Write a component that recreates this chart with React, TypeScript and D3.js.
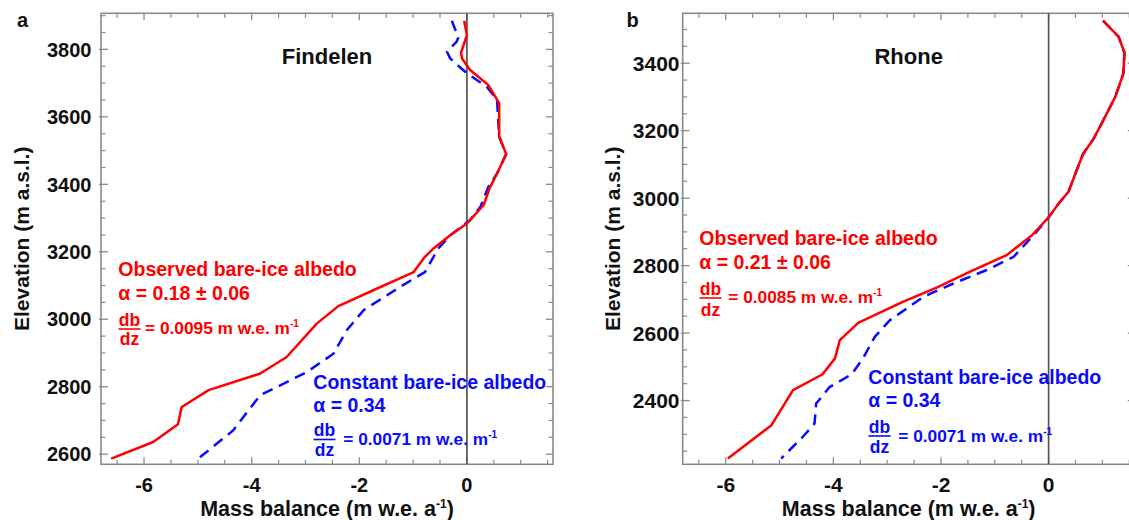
import React from "react";
import * as d3 from "d3";

// ---------- data ----------
// Findelen, observed bare-ice albedo (red, solid)
const findelenObsZ = [3885, 3842, 3790, 3773, 3739, 3694, 3640, 3541, 3490, 3432, 3388, 3338, 3284, 3249, 3210, 3185, 3140, 3086, 3039, 2987, 2888, 2839, 2790, 2740, 2689, 2636, 2587];
const findelenObsMB = [-0.05, 0.0, -0.11, -0.09, 0.06, 0.40, 0.60, 0.60, 0.73, 0.56, 0.42, 0.31, 0.0, -0.31, -0.62, -0.78, -0.99, -1.74, -2.39, -2.79, -3.35, -3.84, -4.80, -5.30, -5.37, -5.83, -6.61];
// Findelen, constant bare-ice albedo (blue, dashed)
const findelenConZ = [3885, 3835, 3823, 3793, 3773, 3729, 3689, 3650, 3541, 3490, 3432, 3393, 3333, 3294, 3249, 3210, 3140, 3096, 3027, 2968, 2898, 2844, 2804, 2775, 2730, 2671, 2587];
const findelenConMB = [-0.28, -0.16, -0.19, -0.37, -0.31, 0.0, 0.37, 0.56, 0.60, 0.73, 0.56, 0.40, 0.25, 0.06, -0.31, -0.53, -0.78, -1.24, -1.92, -2.23, -2.48, -2.97, -3.47, -3.84, -4.06, -4.34, -4.99];
// Rhone, observed bare-ice albedo
const rhoneObsZ = [3526, 3479, 3431, 3370, 3301, 3232, 3177, 3131, 3074, 3019, 2985, 2943, 2890, 2831, 2782, 2735, 2693, 2630, 2579, 2525, 2478, 2431, 2327, 2228];
const rhoneObsMB = [1.01, 1.30, 1.41, 1.39, 1.24, 1.02, 0.84, 0.64, 0.50, 0.37, 0.19, 0.0, -0.31, -0.78, -1.46, -2.08, -2.70, -3.54, -3.88, -3.97, -4.20, -4.75, -5.15, -5.96];
// Rhone, constant bare-ice albedo
const rhoneConZ = [3526, 3479, 3431, 3370, 3301, 3232, 3177, 3131, 3074, 3019, 2985, 2943, 2890, 2826, 2787, 2747, 2707, 2638, 2589, 2525, 2478, 2440, 2391, 2332, 2292, 2228];
const rhoneConMB = [1.01, 1.30, 1.41, 1.39, 1.24, 1.02, 0.84, 0.64, 0.50, 0.37, 0.19, 0.0, -0.28, -0.65, -1.15, -1.77, -2.33, -2.95, -3.23, -3.45, -3.66, -4.07, -4.32, -4.35, -4.57, -4.97];

const xDomain = [-6.8, 1.6];
const xMajorTicks = [-6, -4, -2, 0];
const findelenYTicks = [2600, 2800, 3000, 3200, 3400, 3600, 3800];
const rhoneYTicks = [2400, 2600, 2800, 3000, 3200, 3400];

const observedLabels = ["Observed bare-ice albedo", "α = 0.18 ± 0.06", "= 0.0095 m w.e. m"];
const observedLabelsRhone = ["Observed bare-ice albedo", "α = 0.21 ± 0.06", "= 0.0085 m w.e. m"];
const constantLabels = ["Constant bare-ice albedo", "α = 0.34", "= 0.0071 m w.e. m"];

const RED = "#ff0000";
const BLUE = "#0a0aff";
const FONT = "'Liberation Sans', Arial, Helvetica, sans-serif";

type Ann = { x: number; y1: number; y2: number; fx: number; db: number; bar: number; dz: number; ex: number; ey: number; lines: string[]; color: string };

const panels = [
  {
    letter: "a", letterX: 17, title: "Findelen",
    x0: 101, x1: 553, y0: 13.3, y1: 464.3,
    zDomain: [2570, 3907], yTicks: findelenYTicks, yMinorFrom: 2600, yMinorTo: 3900,
    yLabelRight: 91.5, yTitleX: 22, tickFont: 20,
    obs: { z: findelenObsZ, mb: findelenObsMB }, con: { z: findelenConZ, mb: findelenConMB },
    anns: [
      { x: 118.3, y1: 276, y2: 299.5, fx: 129.5, db: 325.5, bar: 329, dz: 344.5, ex: 145, ey: 333.5, lines: observedLabels, color: RED },
      { x: 313.3, y1: 388.5, y2: 411.5, fx: 324.5, db: 435.5, bar: 439.5, dz: 455.5, ex: 343.3, ey: 445, lines: constantLabels, color: BLUE },
    ] as Ann[],
  },
  {
    letter: "b", letterX: 626.5, title: "Rhone",
    x0: 682.7, x1: 1134.7, y0: 13.3, y1: 464.3,
    zDomain: [2211, 3548], yTicks: rhoneYTicks, yMinorFrom: 2250, yMinorTo: 3500,
    yLabelRight: 679.5, yTitleX: 613, tickFont: 21,
    obs: { z: rhoneObsZ, mb: rhoneObsMB }, con: { z: rhoneConZ, mb: rhoneConMB },
    anns: [
      { x: 699.3, y1: 245, y2: 269.3, fx: 710.5, db: 294.5, bar: 298, dz: 315.5, ex: 728.3, ey: 303.3, lines: observedLabelsRhone, color: RED },
      { x: 868.3, y1: 384, y2: 406.7, fx: 879.5, db: 432.5, bar: 436, dz: 452.5, ex: 898.3, ey: 441.7, lines: constantLabels, color: BLUE },
    ] as Ann[],
  },
];

function Panel({ p }: { p: (typeof panels)[number] }) {
  const x = d3.scaleLinear().domain(xDomain).range([p.x0, p.x1]);
  const y = d3.scaleLinear().domain(p.zDomain).range([p.y1, p.y0]);
  const line = d3.line<[number, number]>().x((d) => x(d[0])).y((d) => y(d[1]));
  const obsPts = p.obs.z.map((z, i) => [p.obs.mb[i], z] as [number, number]);
  const conPts = p.con.z.map((z, i) => [p.con.mb[i], z] as [number, number]);
  const xMinor = d3.range(-6.5, 1.6, 0.5).filter((v) => !xMajorTicks.includes(v));
  const yMinor = d3.range(p.yMinorFrom, p.yMinorTo + 1, 50).filter((v) => !p.yTicks.includes(v));
  const gray = "#8a8a8a";
  const MAJ = 7, MIN = 4.5;
  const cx = (p.x0 + p.x1) / 2;
  const cy = (p.y0 + p.y1) / 2;
  return (
    <g fontFamily={FONT} fontWeight="bold">
      {/* ticks */}
      {xMajorTicks.map((v) => (
        <g key={"xm" + v} stroke={gray} strokeWidth={1.3}>
          <line x1={x(v)} x2={x(v)} y1={p.y1} y2={p.y1 - MAJ} />
          <line x1={x(v)} x2={x(v)} y1={p.y0} y2={p.y0 + MAJ} />
        </g>
      ))}
      {xMinor.map((v) => (
        <g key={"xn" + v} stroke={gray} strokeWidth={1.2}>
          <line x1={x(v)} x2={x(v)} y1={p.y1} y2={p.y1 - MIN} />
          <line x1={x(v)} x2={x(v)} y1={p.y0} y2={p.y0 + MIN} />
        </g>
      ))}
      {p.yTicks.map((v) => (
        <g key={"ym" + v} stroke={gray} strokeWidth={1.3}>
          <line x1={p.x0 - 2} x2={p.x0 + MAJ} y1={y(v)} y2={y(v)} />
          <line x1={p.x1} x2={p.x1 - MAJ} y1={y(v)} y2={y(v)} />
        </g>
      ))}
      {yMinor.map((v) => (
        <g key={"yn" + v} stroke={gray} strokeWidth={1.2}>
          <line x1={p.x0} x2={p.x0 + MIN} y1={y(v)} y2={y(v)} />
          <line x1={p.x1} x2={p.x1 - MIN} y1={y(v)} y2={y(v)} />
        </g>
      ))}
      {/* frame */}
      <rect x={p.x0} y={p.y0} width={p.x1 - p.x0} height={p.y1 - p.y0} fill="none" stroke={gray} strokeWidth={1.6} />
      {/* zero line */}
      <line x1={x(0)} x2={x(0)} y1={p.y0} y2={p.y1} stroke="#555" strokeWidth={1.7} />
      {/* series */}
      <path d={line(conPts) || ""} fill="none" stroke={BLUE} strokeWidth={2.5} strokeDasharray="11,7" />
      <path d={line(obsPts) || ""} fill="none" stroke={RED} strokeWidth={2.5} strokeLinejoin="round" />
      {/* tick labels */}
      {xMajorTicks.map((v) => (
        <text key={"xl" + v} x={x(v)} y={491.5} textAnchor="middle" fontSize={p.tickFont} fill="#111">{v}</text>
      ))}
      {p.yTicks.map((v) => (
        <text key={"yl" + v} x={p.yLabelRight} y={y(v)} dy="0.36em" textAnchor="end" fontSize={p.tickFont} fill="#111">{v}</text>
      ))}
      {/* axis titles */}
      <text x={cx} y={515.5} textAnchor="middle" fontSize={21.5} fill="#111">
        Mass balance (m w.e. a<tspan fontSize={12} dy={-8}>-1</tspan><tspan dy={8}>)</tspan>
      </text>
      <text transform={`translate(${p.yTitleX + 7},${cy}) rotate(-90)`} textAnchor="middle" fontSize={21} fill="#111">
        Elevation (m a.s.l.)
      </text>
      <text x={p.letterX} y={27} fontSize={20} fill="#111">{p.letter}</text>
      <text x={cx} y={63.5} textAnchor="middle" fontSize={22} fill="#111">{p.title}</text>
      {/* annotations */}
      {p.anns.map((a, i) => (
        <g key={"ann" + i} fill={a.color}>
          <text x={a.x} y={a.y1} fontSize={19.5}>{a.lines[0]}</text>
          <text x={a.x} y={a.y2} fontSize={19.5}>{a.lines[1]}</text>
          <text x={a.fx} y={a.db} textAnchor="middle" fontSize={17.5}>db</text>
          <line x1={a.fx - 11} x2={a.fx + 11} y1={a.bar} y2={a.bar} stroke={a.color} strokeWidth={1.6} />
          <text x={a.fx} y={a.dz} textAnchor="middle" fontSize={17.5}>dz</text>
          <text x={a.ex} y={a.ey} fontSize={17.3}>
            {a.lines[2]}<tspan fontSize={10} dy={-7}>-1</tspan>
          </text>
        </g>
      ))}
    </g>
  );
}

export default function App() {
  return (
    <svg width={1129} height={520} style={{ position: "absolute", left: 0, top: 0, background: "#fff" }}>
      <rect x={0} y={0} width={1129} height={520} fill="#fff" />
      {panels.map((p) => (
        <Panel key={p.letter} p={p} />
      ))}
    </svg>
  );
}
